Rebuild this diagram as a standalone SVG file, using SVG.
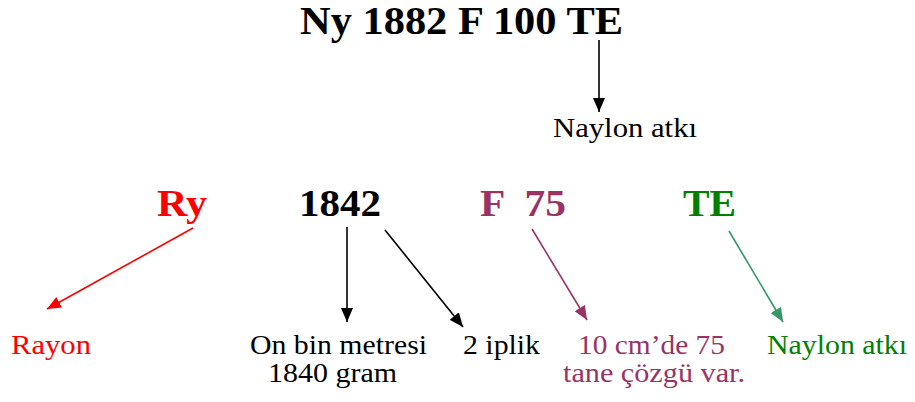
<svg xmlns="http://www.w3.org/2000/svg" width="915" height="402" viewBox="0 0 915 402">
  <style>
    text { font-family: "Liberation Serif", "Times New Roman", serif; }
    .big { font-size: 41px; font-weight: bold; }
    .mid { font-size: 37px; font-weight: bold; }
    .sm { font-size: 28px; }
    .blk { fill: #000000; }
    .red { fill: #FF0000; }
    .plum { fill: #993366; }
    .grn { fill: #008000; }
    .line { fill: none; stroke-width: 1.6; }
  </style>
  <defs>
    <marker id="ah-black" markerUnits="userSpaceOnUse" markerWidth="15" markerHeight="12" refX="14" refY="6" orient="auto">
      <path d="M0,0 L14,6 L0,12 Z" fill="#000000"/>
    </marker>
    <marker id="ah-red" markerUnits="userSpaceOnUse" markerWidth="15" markerHeight="12" refX="14" refY="6" orient="auto">
      <path d="M0,0 L14,6 L0,12 Z" fill="#FF0000"/>
    </marker>
    <marker id="ah-plum" markerUnits="userSpaceOnUse" markerWidth="15" markerHeight="12" refX="14" refY="6" orient="auto">
      <path d="M0,0 L14,6 L0,12 Z" fill="#993366"/>
    </marker>
    <marker id="ah-green" markerUnits="userSpaceOnUse" markerWidth="15" markerHeight="12" refX="14" refY="6" orient="auto">
      <path d="M0,0 L14,6 L0,12 Z" fill="#339966"/>
    </marker>
  </defs>

  <!-- top code and its note -->
  <g id="code-nylon">
    <text class="big blk" x="300" y="34" textLength="323" lengthAdjust="spacingAndGlyphs">Ny 1882 F 100 TE</text>
  </g>
  <g id="note-nylon-weft">
    <text class="sm blk" x="553" y="137" textLength="144" lengthAdjust="spacingAndGlyphs">Naylon atkı</text>
  </g>

  <!-- code parts -->
  <g id="part-ry">
    <text class="mid red" x="157" y="216" textLength="50" lengthAdjust="spacingAndGlyphs">Ry</text>
  </g>
  <g id="part-1842">
    <text class="mid blk" x="299" y="216" textLength="82" lengthAdjust="spacingAndGlyphs">1842</text>
  </g>
  <g id="part-f75">
    <text class="mid plum" x="480" y="216" textLength="86" lengthAdjust="spacingAndGlyphs" xml:space="preserve">F  75</text>
  </g>
  <g id="part-te">
    <text class="mid grn" x="683" y="216" textLength="53" lengthAdjust="spacingAndGlyphs">TE</text>
  </g>

  <!-- explanations -->
  <g id="desc-rayon">
    <text class="sm red" x="11" y="354" textLength="80" lengthAdjust="spacingAndGlyphs">Rayon</text>
  </g>
  <g id="desc-weight">
    <text class="sm blk" x="250" y="354" textLength="177" lengthAdjust="spacingAndGlyphs">On bin metresi</text>
    <text class="sm blk" x="268" y="382" textLength="129" lengthAdjust="spacingAndGlyphs">1840 gram</text>
  </g>
  <g id="desc-ply">
    <text class="sm blk" x="463" y="354" textLength="77" lengthAdjust="spacingAndGlyphs">2 iplik</text>
  </g>
  <g id="desc-warp">
    <text class="sm plum" x="578" y="354" textLength="147" lengthAdjust="spacingAndGlyphs">10 cm’de 75</text>
    <text class="sm plum" x="563" y="382" textLength="182" lengthAdjust="spacingAndGlyphs">tane çözgü var.</text>
  </g>
  <g id="desc-weft">
    <text class="sm grn" x="767" y="354" textLength="140" lengthAdjust="spacingAndGlyphs">Naylon atkı</text>
  </g>

  <!-- connectors -->
  <g id="connectors">
    <line class="line" x1="599" y1="40" x2="599" y2="112" stroke="#000000" marker-end="url(#ah-black)"/>
    <line class="line" x1="193" y1="228" x2="47" y2="309" stroke="#FF0000" marker-end="url(#ah-red)"/>
    <line class="line" x1="347" y1="227" x2="347" y2="322" stroke="#000000" marker-end="url(#ah-black)"/>
    <line class="line" x1="385" y1="230" x2="463" y2="327" stroke="#000000" marker-end="url(#ah-black)"/>
    <line class="line" x1="532" y1="229" x2="587" y2="320" stroke="#993366" marker-end="url(#ah-plum)"/>
    <line class="line" x1="729" y1="231" x2="783" y2="322" stroke="#339966" marker-end="url(#ah-green)"/>
  </g>
</svg>
